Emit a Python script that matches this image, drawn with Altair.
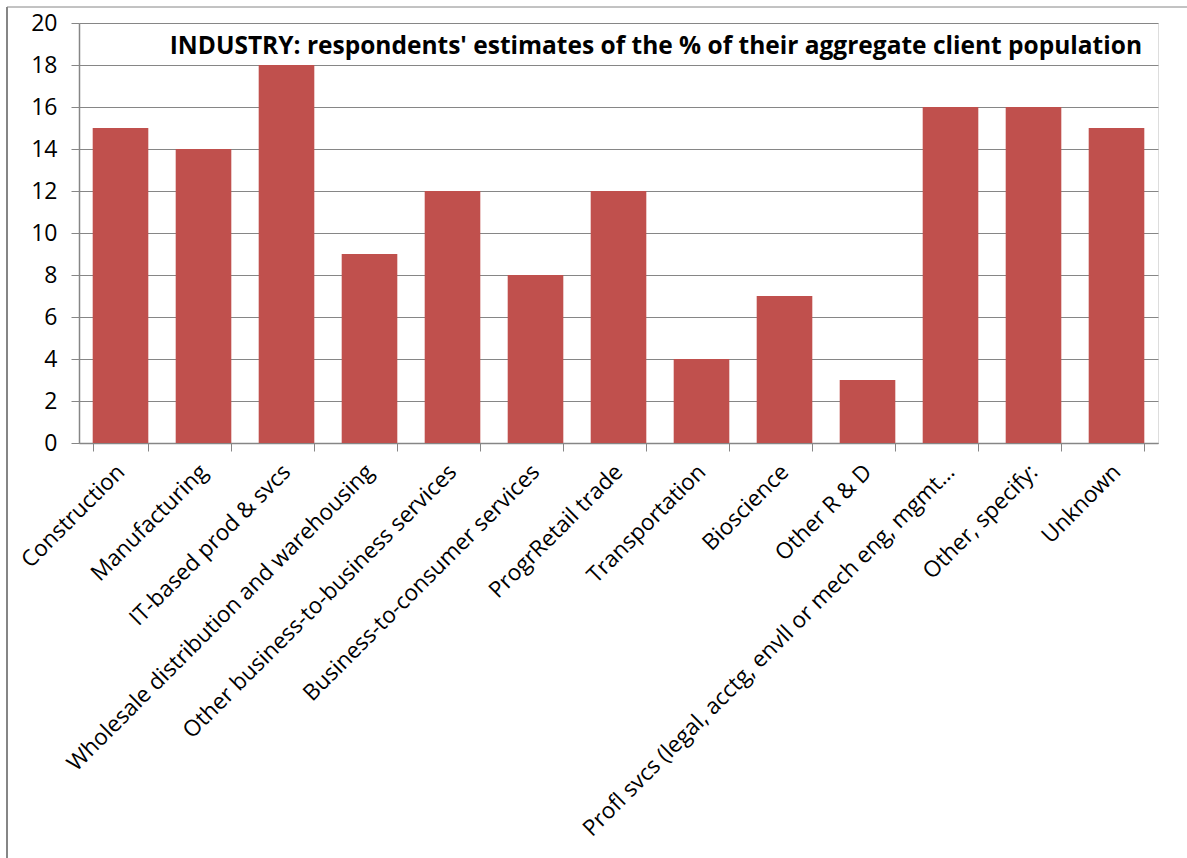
import altair as alt
import pandas as pd

categories = [
    "Construction", "Manufacturing", "IT-based prod & svcs",
    "Wholesale distribution and warehousing",
    "Other business-to-business services",
    "Business-to-consumer services", "ProgrRetail trade",
    "Transportation", "Bioscience", "Other R & D",
    "Profl svcs (legal, acctg, envll or mech eng, mgmt…",
    "Other, specify:", "Unknown",
]
values = [15, 14, 18, 9, 12, 8, 12, 4, 7, 3, 16, 16, 15]
title_text = "INDUSTRY: respondents' estimates of the % of their aggregate client population"

df = pd.DataFrame({"cat": categories, "val": values})

FONT = "Open Sans"
GRAY = "#868686"
W, H = 1079, 420

bars = alt.Chart(df).mark_bar(color="#C0504D").encode(
    x=alt.X("cat:N", sort=categories, title=None,
            scale=alt.Scale(paddingInner=0.33, paddingOuter=0.165),
            axis=alt.Axis(labelAngle=315, labelAlign="right", labelBaseline="middle",
                          labelFont=FONT, labelFontSize=22.5, labelColor="black",
                          labelPadding=17, labelLimit=900,
                          tickBand="extent", tickSize=8, tickColor=GRAY,
                          domainColor=GRAY, domainWidth=1.5, grid=False)),
    y=alt.Y("val:Q", title=None,
            scale=alt.Scale(domain=[0, 20], nice=False),
            axis=alt.Axis(values=list(range(0, 21, 2)), labelFont=FONT, labelFontSize=23,
                          labelColor="black", labelPadding=14, tickSize=8, tickColor=GRAY,
                          domainColor=GRAY, domainWidth=1.5, gridColor=GRAY, gridWidth=1)),
)

title = alt.Chart(pd.DataFrame({"t": [title_text]})).mark_text(
    font=FONT, fontSize=24.5, fontWeight="bold", align="right", baseline="middle", color="black"
).encode(x=alt.value(1063), y=alt.value(24), text="t:N")

frame_top = alt.Chart(pd.DataFrame({"a": [0]})).mark_rule(color=GRAY, strokeWidth=1).encode(
    x=alt.value(-72), x2=alt.value(1110), y=alt.value(-16))
frame_left = alt.Chart(pd.DataFrame({"a": [0]})).mark_rule(color=GRAY, strokeWidth=2).encode(
    x=alt.value(-72), y=alt.value(-16), y2=alt.value(900))

chart = alt.layer(bars, title, frame_top, frame_left).properties(
    width=W, height=H,
    autosize=alt.AutoSizeParams(type="none"),
    padding={"left": 79, "top": 23, "right": 29, "bottom": 415},
).configure_view(stroke=None).configure(background="white")

chart.save("out.html", embed_options={"renderer": "svg", "actions": False})
